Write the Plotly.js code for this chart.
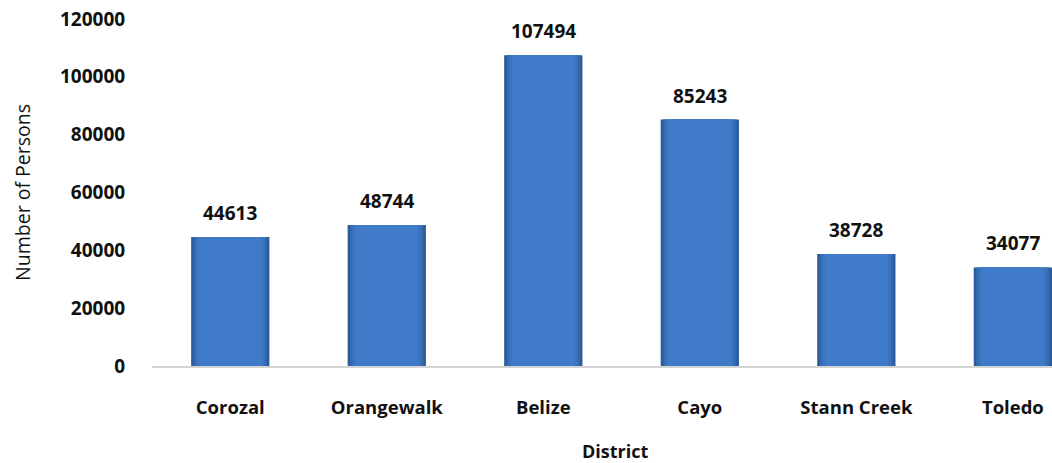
<!DOCTYPE html>
<html>
<head>
<meta charset="utf-8">
<script src="https://cdn.plot.ly/plotly-3.0.1.min.js"></script>
<style>html,body{margin:0;padding:0;background:#fff;}#chart{width:1052px;height:463px;}</style>
</head>
<body>
<div id="chart"></div>
<script>
const districts = ["Corozal", "Orangewalk", "Belize", "Cayo", "Stann Creek", "Toledo"];
const persons = [44613, 48744, 107494, 85243, 38728, 34077];
const yTicks = [0, 20000, 40000, 60000, 80000, 100000, 120000];

const FONT = "Open Sans, Liberation Sans, sans-serif";

// layered bars to mimic the bevelled look
const layers = [
  {w: 0.50, c: "#2B5B99"},
  {w: 0.47, c: "#3569AE"},
  {w: 0.44, c: "#3B74BF"},
  {w: 0.40, c: "#3F7BC8"}
];
const traces = layers.map(l => ({
  type: "bar",
  x: districts,
  y: persons,
  width: l.w,
  marker: {color: l.c, line: {width: 0}},
  hoverinfo: "skip",
  showlegend: false
}));

const annotations = districts.map((d, i) => ({
  x: d, y: persons[i], xref: "x", yref: "y",
  text: String(persons[i]),
  showarrow: false, yanchor: "bottom", yshift: 9,
  font: {family: FONT, size: 19, color: "#111", weight: "bold"}
}));
annotations.push({
  xref: "paper", yref: "paper",
  x: (615 - 152) / 900, y: -(451 - 366) / 347,
  xanchor: "center", yanchor: "middle",
  text: "District", showarrow: false,
  font: {family: FONT, size: 18, color: "#111", weight: "bold"}
});

const layout = {
  width: 1052, height: 463,
  margin: {l: 152, r: 0, t: 19, b: 97},
  paper_bgcolor: "#fff", plot_bgcolor: "#fff",
  barmode: "overlay",
  font: {family: FONT, color: "#111"},
  xaxis: {
    type: "category",
    range: [-0.5, 5.25],
    showgrid: false, zeroline: false,
    showline: true, linecolor: "#D4D4D4", linewidth: 2,
    ticks: "outside", ticklen: 24, tickcolor: "rgba(0,0,0,0)",
    tickfont: {family: FONT, size: 18.5, color: "#111", weight: "bold"},
    fixedrange: true
  },
  yaxis: {
    range: [0, 120000],
    tickvals: yTicks,
    ticktext: yTicks.map(String),
    showgrid: false, zeroline: false, showline: false,
    ticks: "outside", ticklen: 22, tickcolor: "rgba(0,0,0,0)",
    tickfont: {family: FONT, size: 19, color: "#111", weight: "bold"},
    title: {text: "Number of Persons", standoff: 24,
            font: {family: FONT, size: 19.5, color: "#111"}},
    fixedrange: true
  },
  annotations: annotations
};

Plotly.newPlot("chart", traces, layout, {displayModeBar: false, staticPlot: true});
</script>
</body>
</html>
